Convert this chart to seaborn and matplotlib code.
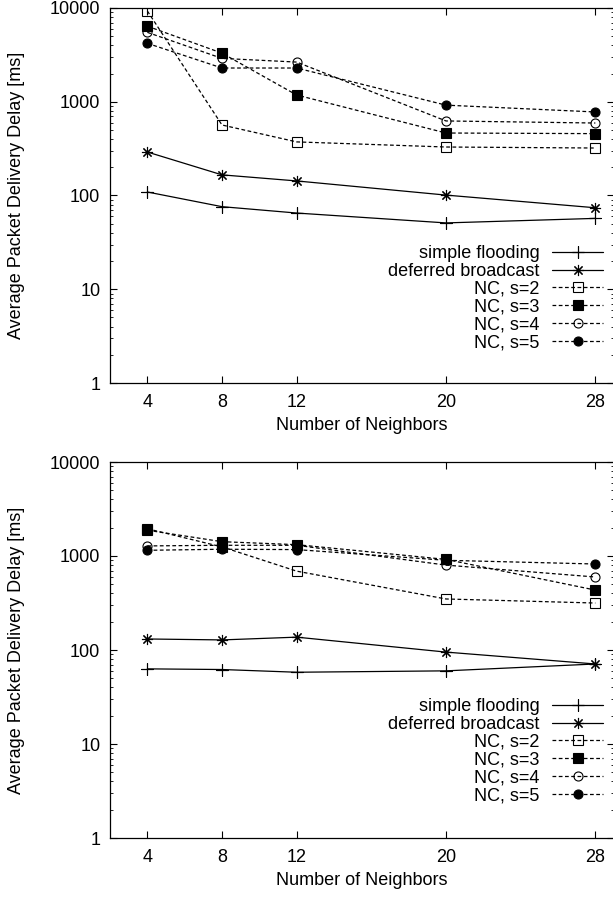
import matplotlib
matplotlib.use('Agg')
import matplotlib.pyplot as plt
import matplotlib.ticker as mticker
import seaborn as sns
import pandas as pd

neighbors = [4, 8, 12, 20, 28]
labels = ['simple flooding', 'deferred broadcast', 'NC, s=2', 'NC, s=3', 'NC, s=4', 'NC, s=5']

# top chart
top_flood = [109, 76, 65, 51, 57]
top_deferred = [291, 166, 143, 101, 74]
top_nc2 = [9300, 565, 373, 329, 321]
top_nc3 = [6400, 3300, 1180, 464, 457]
top_nc4 = [5500, 2900, 2650, 624, 593]
top_nc5 = [4200, 2290, 2290, 920, 778]

# bottom chart
bot_flood = [63, 62, 58, 60, 71]
bot_deferred = [131, 128, 137, 95, 71]
bot_nc2 = [1950, 1250, 690, 349, 316]
bot_nc3 = [1880, 1420, 1320, 920, 434]
bot_nc4 = [1280, 1300, 1300, 800, 598]
bot_nc5 = [1150, 1180, 1170, 900, 822]

sns.set_style('ticks')
plt.rcParams['font.family'] = ['Liberation Sans', 'DejaVu Sans']
plt.rcParams['font.size'] = 13
plt.rcParams['text.color'] = 'k'
plt.rcParams['axes.labelcolor'] = 'k'

# (marker, markersize, face, dashed)
styles = [
    ((4, 2, 0), 8, 'k', False),
    ((8, 2, 0), 8, 'k', False),
    ('s', 6.5, 'none', True),
    ('s', 6.5, 'k', True),
    ('o', 6.5, 'none', True),
    ('o', 6.5, 'k', True),
]


def draw(ax, series, legend_top):
    for lab, vals, (mk, ms, fc, dashed) in zip(labels, series, styles):
        df = pd.DataFrame({'n': neighbors, 'delay': vals})
        sns.lineplot(data=df, x='n', y='delay', ax=ax, errorbar=None, legend=False,
                     color='k', linewidth=0.9, marker=mk, markersize=ms,
                     markerfacecolor=fc, markeredgecolor='k', markeredgewidth=0.8,
                     linestyle=(0, (3, 2)) if dashed else '-', label=lab)
    ax.set_yscale('log')
    ax.set_xlim(2, 29)
    ax.set_ylim(1, 10000)
    ax.set_xticks(neighbors)
    ax.set_xticklabels([str(n) for n in neighbors])
    ax.set_yticks([1, 10, 100, 1000, 10000])
    ax.set_yticklabels(['1', '10', '100', '1000', '10000'])
    ax.yaxis.set_minor_locator(mticker.LogLocator(base=10, subs=range(2, 10)))
    ax.yaxis.set_minor_formatter(mticker.NullFormatter())
    ax.tick_params(which='both', direction='in', top=True, right=True, colors='k')
    ax.tick_params(which='major', length=5, width=0.8)
    ax.tick_params(which='minor', length=2.5, width=0.6)
    ax.tick_params(axis='x', pad=8)
    ax.tick_params(axis='y', pad=7)
    for s in ax.spines.values():
        s.set_visible(True)
        s.set_color('k')
        s.set_linewidth(0.9)
    ax.set_xlabel('Number of Neighbors', labelpad=4)
    ax.set_ylabel('Average Packet Delivery Delay [ms]', labelpad=18)
    ax.legend(loc='upper right', bbox_to_anchor=(603 / 613, 1 - legend_top / 897),
              bbox_transform=fig.transFigure, frameon=False, markerfirst=False,
              borderpad=0, borderaxespad=0, handlelength=2.8, handletextpad=0.7,
              labelspacing=0.05, fontsize=13)


fig = plt.figure(figsize=(6.13, 8.97), dpi=100)
ax1 = fig.add_axes([110 / 613, 1 - 383 / 897, 504 / 613, 375 / 897])
ax2 = fig.add_axes([110 / 613, 1 - 838 / 897, 504 / 613, 376 / 897])

draw(ax1, [top_flood, top_deferred, top_nc2, top_nc3, top_nc4, top_nc5], 245)
draw(ax2, [bot_flood, bot_deferred, bot_nc2, bot_nc3, bot_nc4, bot_nc5], 698)

fig.savefig('out.png', dpi=100)
